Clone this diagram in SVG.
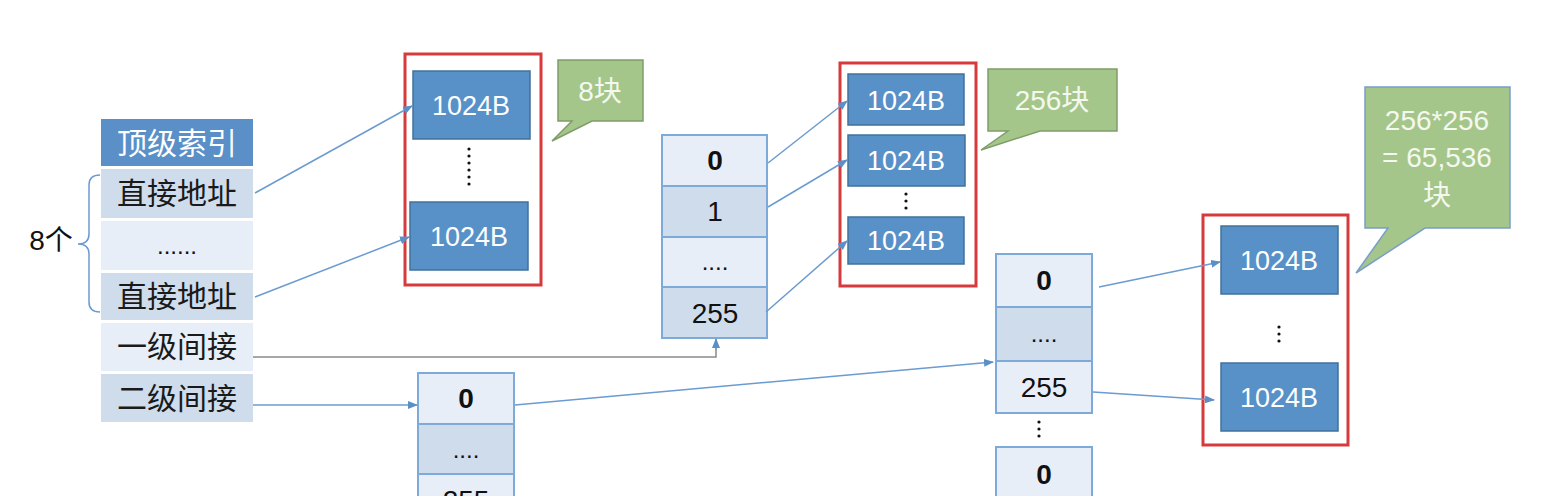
<svg xmlns="http://www.w3.org/2000/svg" width="1548" height="496" viewBox="0 0 1548 496">
<style>
text{font-family:"Liberation Sans","Noto Sans CJK SC",sans-serif;text-anchor:middle}
.cjk{font-size:30px;fill:#1a1a1a}
.hdr{font-size:30px;fill:#ffffff}
.blk{fill:#5890c8;stroke:#41719c;stroke-width:1.5}
.blkt{font-size:27px;fill:#ffffff}
.red{fill:none;stroke:#d73a3c;stroke-width:3}
.lt{fill:#e8eef7}
.dk{fill:#cfdcec}
.cell{stroke:#7eaad9;stroke-width:2}
.num{font-size:28px;fill:#111111}
.b{font-weight:bold}
.call{fill:#a4c68a;stroke:#7f9d68;stroke-width:1.5}
.callt{font-size:28px;fill:#f4f8ef}
.con{fill:none;stroke:#6b9bd0;stroke-width:1.5}
.gray{fill:none;stroke:#8a8a8a;stroke-width:1.5}
.dots{fill:#111111}
</style>
<defs>
<marker id="ah" markerWidth="10" markerHeight="8" refX="9" refY="4" orient="auto" markerUnits="userSpaceOnUse">
<path d="M0,0 L10,4 L0,8 Z" fill="#5b8fc7"/>
</marker>
</defs>

<g id="top-index">
<rect x="101" y="119" width="152" height="47" fill="#5a8fc8"/>
<text class="hdr" x="177" y="154">顶级索引</text>
<rect class="dk" x="101" y="169" width="152" height="49"/>
<text class="cjk" x="177" y="204">直接地址</text>
<rect class="lt" x="101" y="221" width="152" height="49"/>
<text class="num" x="177" y="254" style="font-size:24px">......</text>
<rect class="dk" x="101" y="273" width="152" height="47"/>
<text class="cjk" x="177" y="307">直接地址</text>
<rect class="lt" x="101" y="323" width="152" height="48"/>
<text class="cjk" x="177" y="357">一级间接</text>
<rect class="dk" x="101" y="374" width="152" height="48"/>
<text class="cjk" x="177" y="409">二级间接</text>
</g>

<g id="brace">
<path class="con" d="M100,175 Q89,175 89,185 L89,234 Q89,244 78,244 Q89,244 89,254 L89,302 Q89,312 100,312"/>
<text class="num" x="51" y="250" style="font-size:28px">8个</text>
</g>

<g id="direct-blocks">
<rect class="red" x="405" y="54" width="136" height="231"/>
<rect class="blk" x="413" y="71" width="117" height="68"/>
<text class="blkt" x="471" y="115">1024B</text>
<rect class="blk" x="410" y="202" width="118" height="68"/>
<text class="blkt" x="469" y="246">1024B</text>
<g class="dots">
<circle cx="469" cy="149" r="1.6"/><circle cx="469" cy="156" r="1.6"/><circle cx="469" cy="163" r="1.6"/><circle cx="469" cy="170" r="1.6"/><circle cx="469" cy="177" r="1.6"/><circle cx="469" cy="184" r="1.6"/>
</g>
</g>

<g id="callout-8">
<path class="call" d="M558,60 H643 V121 H592 L552,141 L572,121 H558 Z"/>
<text class="callt" x="600" y="101">8块</text>
</g>

<g id="index-table-1">
<rect class="lt cell" x="662" y="135" width="105" height="51"/>
<text class="num b" x="715" y="170">0</text>
<rect class="dk cell" x="662" y="186" width="105" height="51"/>
<text class="num" x="715" y="221">1</text>
<rect class="lt cell" x="662" y="237" width="105" height="50"/>
<text class="num" x="715" y="270" style="font-size:24px">....</text>
<rect class="dk cell" x="662" y="287" width="105" height="51"/>
<text class="num" x="715" y="323">255</text>
</g>

<g id="single-blocks">
<rect class="red" x="840" y="63" width="136" height="223"/>
<rect class="blk" x="848" y="74" width="116" height="51"/>
<text class="blkt" x="906" y="110">1024B</text>
<rect class="blk" x="848" y="135" width="117" height="51"/>
<text class="blkt" x="906" y="170">1024B</text>
<rect class="blk" x="848" y="217" width="116" height="47"/>
<text class="blkt" x="906" y="250">1024B</text>
<g class="dots">
<circle cx="906" cy="194" r="1.6"/><circle cx="906" cy="201" r="1.6"/><circle cx="906" cy="208" r="1.6"/>
</g>
</g>

<g id="callout-256">
<path class="call" d="M988,69 H1117 V131 H1040 L981,150 L1008,131 H988 Z"/>
<text class="callt" x="1052" y="110">256块</text>
</g>

<g id="index-table-2">
<rect class="lt cell" x="418" y="373" width="96" height="51"/>
<text class="num b" x="466" y="408">0</text>
<rect class="dk cell" x="418" y="424" width="96" height="50"/>
<text class="num" x="466" y="458" style="font-size:24px">....</text>
<rect class="lt cell" x="418" y="474" width="96" height="51"/>
<text class="num" x="466" y="510">255</text>
</g>

<g id="index-table-3">
<rect class="lt cell" x="996" y="254" width="96" height="53"/>
<text class="num b" x="1044" y="290">0</text>
<rect class="dk cell" x="996" y="307" width="96" height="54"/>
<text class="num" x="1044" y="342" style="font-size:24px">....</text>
<rect class="lt cell" x="996" y="361" width="96" height="52"/>
<text class="num" x="1044" y="397">255</text>
<g class="dots">
<circle cx="1039" cy="422" r="1.6"/><circle cx="1039" cy="429" r="1.6"/><circle cx="1039" cy="436" r="1.6"/>
</g>
<rect class="lt cell" x="996" y="447" width="96" height="53"/>
<text class="num b" x="1044" y="484">0</text>
</g>

<g id="double-blocks">
<rect class="red" x="1203" y="215" width="145" height="230"/>
<rect class="blk" x="1221" y="226" width="117" height="68"/>
<text class="blkt" x="1279" y="270">1024B</text>
<rect class="blk" x="1221" y="363" width="117" height="68"/>
<text class="blkt" x="1279" y="407">1024B</text>
<g class="dots">
<circle cx="1279" cy="327" r="1.6"/><circle cx="1279" cy="334" r="1.6"/><circle cx="1279" cy="341" r="1.6"/>
</g>
</g>

<g id="callout-65536">
<path class="call" d="M1365,87 H1510 V228 H1425 L1356,273 L1388,228 H1365 Z" style="stroke:#7a9fc8"/>
<text class="callt" x="1437" y="130">256*256</text>
<text class="callt" x="1437" y="167">= 65,536</text>
<text class="callt" x="1437" y="205">块</text>
</g>

<g id="connectors">
<line class="con" x1="255" y1="193" x2="412" y2="106" marker-end="url(#ah)"/>
<line class="con" x1="255" y1="297" x2="409" y2="237" marker-end="url(#ah)"/>
<polyline class="gray" points="253,357 716,357 716,346"/>
<line class="con" x1="716" y1="350" x2="716" y2="339" marker-end="url(#ah)"/>
<line class="con" x1="253" y1="405" x2="417" y2="405" marker-end="url(#ah)"/>
<line class="con" x1="768" y1="163" x2="847" y2="101" marker-end="url(#ah)"/>
<line class="con" x1="768" y1="207" x2="847" y2="160" marker-end="url(#ah)"/>
<line class="con" x1="766" y1="312" x2="847" y2="241" marker-end="url(#ah)"/>
<line class="con" x1="515" y1="405" x2="993" y2="362" marker-end="url(#ah)"/>
<line class="con" x1="1099" y1="287" x2="1220" y2="262" marker-end="url(#ah)"/>
<line class="con" x1="1093" y1="392" x2="1214" y2="400" marker-end="url(#ah)"/>
</g>
</svg>
